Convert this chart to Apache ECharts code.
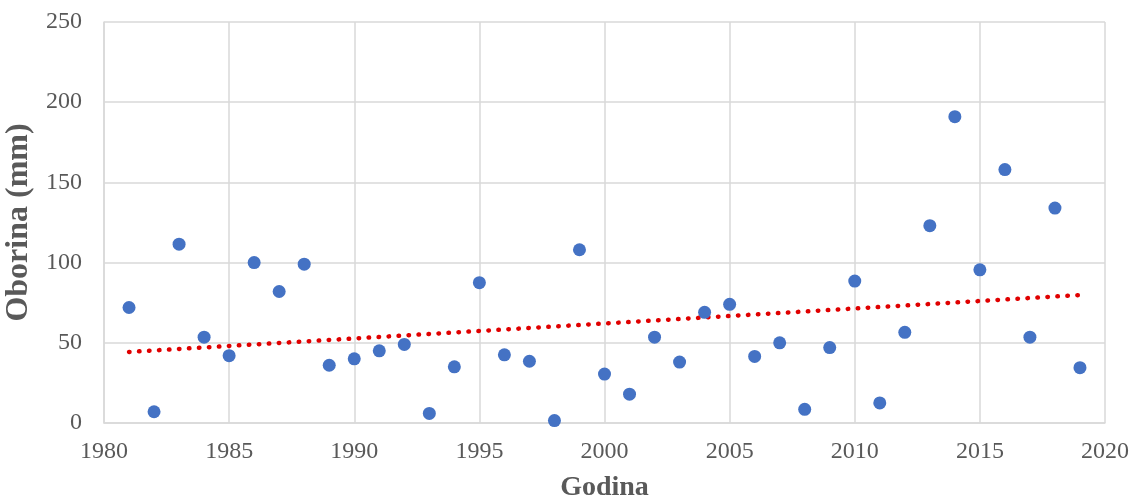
<!DOCTYPE html>
<html>
<head>
<meta charset="utf-8">
<script src="https://cdn.jsdelivr.net/npm/echarts@6/dist/echarts.min.js"></script>
<style>
  html, body { margin: 0; padding: 0; background: #fff; }
  #main { width: 1141px; height: 503px; }
</style>
</head>
<body>
<div id="main"></div>
<script>
// godine i oborina (mm) očitane sa slike
const years = [1981, 1982, 1983, 1984, 1985, 1986, 1987, 1988, 1989, 1990,
  1991, 1992, 1993, 1994, 1995, 1996, 1997, 1998, 1999, 2000,
  2001, 2002, 2003, 2004, 2005, 2006, 2007, 2008, 2009, 2010,
  2011, 2012, 2013, 2014, 2015, 2016, 2017, 2018, 2019];
const oborina = [72, 7, 111.5, 53.5, 42, 100, 82, 99, 36, 40,
  45, 49, 6, 35, 87.5, 42.5, 38.5, 1.5, 108, 30.5,
  18, 53.5, 38, 69, 74, 41.5, 50, 8.5, 47, 88.5,
  12.5, 56.5, 123, 191, 95.5, 158, 53.5, 134, 34.5];
// linearni trend (krajnje točke)
const trendYears = [1981, 2019];
const trendValues = [44.3, 79.8];

const chart = echarts.init(document.getElementById('main'));
const font = 'Liberation Serif';
const grey = '#595959';

chart.setOption({
  animation: false,
  grid: { left: 104, right: 36, top: 22, bottom: 80, outerBoundsMode: 'none', containLabel: false },
  xAxis: {
    type: 'value',
    min: 1980, max: 2020, interval: 5,
    name: 'Godina',
    nameLocation: 'middle',
    nameGap: 51,
    nameTextStyle: { fontFamily: font, fontSize: 28, fontWeight: 'bold', color: grey },
    axisLine: { show: true, lineStyle: { color: '#d9d9d9', width: 1.5 } },
    axisTick: { show: false },
    axisLabel: { fontFamily: font, fontSize: 24, color: grey, margin: 17, formatter: v => String(v) },
    splitLine: { show: true, lineStyle: { color: '#d9d9d9', width: 1.5 } }
  },
  yAxis: {
    type: 'value',
    min: 0, max: 250, interval: 50,
    name: 'Oborina (mm)',
    nameLocation: 'middle',
    nameGap: 57,
    nameTextStyle: { fontFamily: font, fontSize: 32, fontWeight: 'bold', color: grey },
    axisLine: { show: true, lineStyle: { color: '#d9d9d9', width: 1.5 } },
    axisTick: { show: false },
    axisLabel: { fontFamily: font, fontSize: 24, color: grey, margin: 22 },
    splitLine: { show: true, lineStyle: { color: '#d9d9d9', width: 1.5 } }
  },
  series: [
    {
      type: 'scatter',
      data: years.map((y, i) => [y, oborina[i]]),
      symbolSize: 13,
      itemStyle: { color: '#4472c4', opacity: 1 }
    },
    {
      type: 'line',
      data: trendYears.map((y, i) => [y, trendValues[i]]),
      symbol: 'none',
      lineStyle: { color: '#e00000', width: 4.5, type: [0.5, 9.5], cap: 'round' },
      z: 1
    }
  ]
});
</script>
</body>
</html>
